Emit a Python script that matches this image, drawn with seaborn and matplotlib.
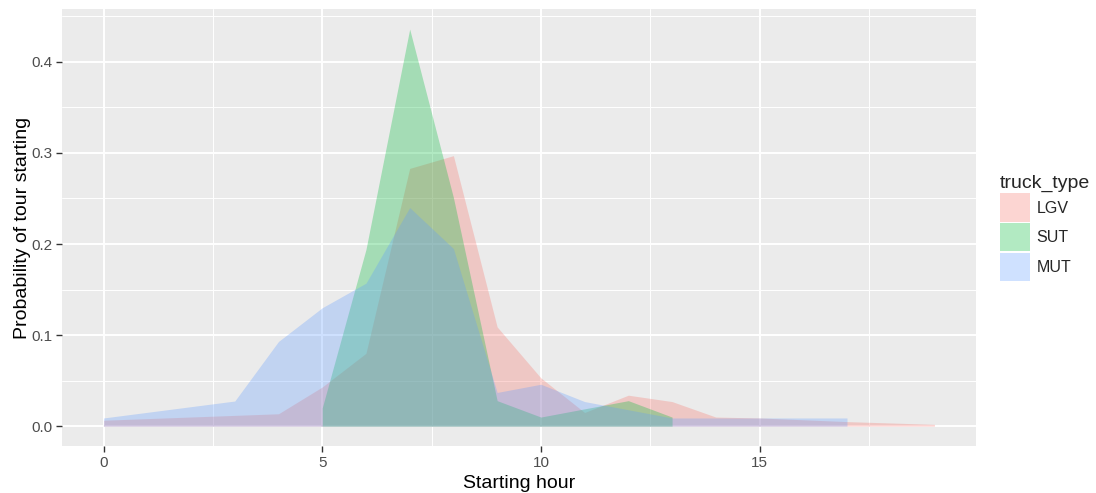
import numpy as np
import matplotlib
matplotlib.use("Agg")
import matplotlib.pyplot as plt
from matplotlib.patches import Patch
from matplotlib.ticker import MultipleLocator
import seaborn as sns

# --- data (hour -> probability) ---
lgv_hours = [0, 4, 5, 6, 7, 8, 9, 10, 11, 12, 13, 14, 15, 16, 17, 18, 19]
lgv_prob = [0.0065, 0.0136, 0.043, 0.080, 0.283, 0.297, 0.109, 0.053, 0.015,
            0.034, 0.027, 0.010, 0.009, 0.007, 0.005, 0.0035, 0.002]

sut_hours = [5, 6, 7, 8, 9, 10, 11, 12, 13]
sut_prob = [0.020, 0.194, 0.436, 0.251, 0.028, 0.010, 0.019, 0.028, 0.010]

mut_hours = [0, 3, 4, 5, 6, 7, 8, 9, 10, 11, 12, 13, 14, 15, 16, 17]
mut_prob = [0.009, 0.0276, 0.093, 0.130, 0.157, 0.240, 0.195, 0.037, 0.046,
            0.027, 0.018, 0.009, 0.009, 0.009, 0.009, 0.009]

truck_types = ["LGV", "SUT", "MUT"]
series = {
    "LGV": (lgv_hours, lgv_prob),
    "SUT": (sut_hours, sut_prob),
    "MUT": (mut_hours, mut_prob),
}

# ggplot-like look
sns.set_theme(style="darkgrid", rc={
    "axes.facecolor": "#EBEBEB",
    "grid.color": "white",
    "axes.edgecolor": "#EBEBEB",
})
plt.rcParams["font.family"] = ["Liberation Sans", "DejaVu Sans"]

palette = dict(zip(truck_types, ["#F8766D", "#00BA38", "#619CFF"]))
alpha = 0.3

fig = plt.figure(figsize=(10.96, 4.93), dpi=100)
ax = fig.add_axes([0.0566, 0.0953, 0.8339, 0.8864])

for t in truck_types:
    h, p = series[t]
    ax.fill_between(h, 0, p, color=palette[t], alpha=alpha, linewidth=0)

ax.set_xlim(-0.95, 19.95)
ax.set_ylim(-0.0218, 0.458)
ax.xaxis.set_major_locator(MultipleLocator(5))
ax.xaxis.set_minor_locator(MultipleLocator(2.5))
ax.yaxis.set_major_locator(MultipleLocator(0.1))
ax.yaxis.set_minor_locator(MultipleLocator(0.05))
ax.yaxis.set_major_formatter(matplotlib.ticker.FormatStrFormatter("%.1f"))
ax.grid(which="major", color="white", linewidth=1.4)
ax.grid(which="minor", color="white", linewidth=0.7)
ax.set_axisbelow(True)
for s in ax.spines.values():
    s.set_visible(False)

ax.tick_params(axis="both", which="major", length=4, width=1, color="#333333",
               labelsize=11, labelcolor="#4D4D4D", pad=3, bottom=True, left=True)
ax.tick_params(axis="both", which="minor", length=0)

ax.set_xlabel("Starting hour", fontsize=14, color="black", labelpad=4)
ax.set_ylabel("Probability of tour starting", fontsize=14, color="black", labelpad=0)

handles = [Patch(facecolor=palette[t], alpha=alpha, edgecolor="none") for t in truck_types]
leg = fig.legend(handles, truck_types, title="truck_type", loc="upper left",
                 bbox_to_anchor=(1000 / 1096, 1 - 175 / 493), frameon=False,
                 fontsize=11.5, title_fontsize=14, handlelength=1.85,
                 handleheight=2.35, labelspacing=0.08, handletextpad=0.45,
                 borderpad=0, borderaxespad=0)
leg._legend_box.align = "left"

fig.savefig("out.png", dpi=100)
